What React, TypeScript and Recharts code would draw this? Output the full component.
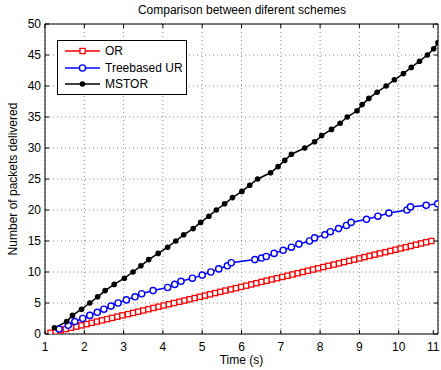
import {
  LineChart,
  Line,
  XAxis,
  YAxis,
  CartesianGrid,
  ReferenceArea,
  Legend,
  Label
} from 'recharts';

const FONT = '"Liberation Sans", Arial, Helvetica, sans-serif';
const FS = 12;

const xTicks = [1, 2, 3, 4, 5, 6, 7, 8, 9, 10, 11];
const yTicks = [0, 5, 10, 15, 20, 25, 30, 35, 40, 45, 50];

const orTime = [
  1.14, 1.27, 1.4, 1.53, 1.66, 1.8, 1.93, 2.06, 2.19, 2.32, 2.45, 2.58, 2.71, 2.84, 2.97,
  3.11, 3.24, 3.37, 3.5, 3.63, 3.76, 3.89, 4.02, 4.15, 4.28, 4.42, 4.55, 4.68, 4.81, 4.94,
  5.07, 5.2, 5.33, 5.46, 5.59, 5.73, 5.86, 5.99, 6.12, 6.25, 6.38, 6.51, 6.64, 6.77, 6.9,
  7.04, 7.17, 7.3, 7.43, 7.56, 7.69, 7.82, 7.95, 8.08, 8.21, 8.35, 8.48, 8.61, 8.74, 8.87,
  9.0, 9.13, 9.26, 9.39, 9.52, 9.66, 9.79, 9.92, 10.05, 10.18, 10.31, 10.44, 10.57, 10.7, 10.83
];
const orPackets = [
  0.2, 0.4, 0.6, 0.8, 1.0, 1.2, 1.4, 1.6, 1.8, 2.0, 2.2, 2.4, 2.6, 2.8, 3.0,
  3.2, 3.4, 3.6, 3.8, 4.0, 4.2, 4.4, 4.6, 4.8, 5.0, 5.2, 5.4, 5.6, 5.8, 6.0,
  6.2, 6.4, 6.6, 6.8, 7.0, 7.2, 7.4, 7.6, 7.8, 8.0, 8.2, 8.4, 8.6, 8.8, 9.0,
  9.2, 9.4, 9.6, 9.8, 10.0, 10.2, 10.4, 10.6, 10.8, 11.0, 11.2, 11.4, 11.6, 11.8, 12.0,
  12.2, 12.4, 12.6, 12.8, 13.0, 13.2, 13.4, 13.6, 13.8, 14.0, 14.2, 14.4, 14.6, 14.8, 15.0
];

const treeTime = [
  1.36, 1.59, 1.76, 1.96, 2.14, 2.33, 2.5, 2.68, 2.86, 3.07, 3.29, 3.46, 3.75, 4.12, 4.3,
  4.46, 4.75, 5.0, 5.22, 5.42, 5.64, 5.74, 6.34, 6.51, 6.63, 6.83, 7.06, 7.27, 7.46, 7.73,
  7.86, 8.12, 8.26, 8.47, 8.67, 8.79, 9.18, 9.47, 9.75, 10.21, 10.3, 10.7, 10.99
];
const treePackets = [
  0.8, 1.4, 2, 2.5, 3, 3.5, 4, 4.5, 5, 5.5, 6, 6.5, 7, 7.5, 8,
  8.5, 9, 9.5, 10, 10.5, 11, 11.5, 12, 12.25, 12.5, 13, 13.5, 14, 14.5, 15,
  15.5, 16, 16.5, 17, 17.5, 18, 18.5, 19, 19.5, 20, 20.5, 20.75, 21
];

const mstorTime = [
  1.24, 1.55, 1.7, 1.93, 2.14, 2.34, 2.53, 2.76, 3.02, 3.24, 3.44, 3.64, 3.88, 4.12, 4.33,
  4.53, 4.77, 4.96, 5.17, 5.36, 5.57, 5.77, 6.01, 6.21, 6.41, 6.74, 6.93, 7.1, 7.27, 7.61,
  7.86, 8.04, 8.29, 8.51, 8.69, 8.94, 9.07, 9.24, 9.45, 9.68, 9.89, 10.12, 10.32, 10.53, 10.73,
  10.89, 11.0
];
const mstorPackets = [
  1, 2, 3, 4, 5, 6, 7, 8, 9, 10, 11, 12, 13, 14, 15,
  16, 17, 18, 19, 20, 21, 22, 23, 24, 25, 26, 27, 28, 29, 30,
  31, 32, 33, 34, 35, 36, 37, 38, 39, 40, 41, 42, 43, 44, 45,
  46, 47
];

const toPoints = (xs: number[], ys: number[]) => xs.map((x, i) => ({ x, y: ys[i] }));

// plot box in page pixels
const TOP = 24;
const BOTTOM = 334;
const LEFT = 45;
const RIGHT = 438;

const RED = '#ff0000';
const BLUE = '#0000ff';

const squareDot = (p: any) => (
  <rect key={`sq-${p.index}`} x={p.cx - 2.6} y={p.cy - 2.6} width={5.2} height={5.2} fill="#fff" stroke={RED} strokeWidth={1.3} />
);
const circleDot = (p: any) => (
  <circle key={`ci-${p.index}`} cx={p.cx} cy={p.cy} r={3.1} fill="#fff" stroke={BLUE} strokeWidth={1.4} />
);
const starDot = (p: any) => (
  <circle key={`st-${p.index}`} cx={p.cx} cy={p.cy} r={2.8} fill="#000" stroke="none" />
);

const XTick = ({ x, payload }: any) => (
  <g>
    <line x1={x} x2={x} y1={BOTTOM} y2={BOTTOM - 4} stroke="#000" />
    <line x1={x} x2={x} y1={TOP} y2={TOP + 4} stroke="#000" />
    <text x={x} y={351} textAnchor="middle" fontSize={FS} fill="#000" fontFamily={FONT}>
      {payload.value}
    </text>
  </g>
);

const YTick = ({ y, payload }: any) => (
  <g>
    <line x1={LEFT} x2={LEFT + 4} y1={y} y2={y} stroke="#000" />
    <line x1={RIGHT} x2={RIGHT - 4} y1={y} y2={y} stroke="#000" />
    <text x={41} y={y + 4} textAnchor="end" fontSize={FS} fill="#000" fontFamily={FONT}>
      {payload.value}
    </text>
  </g>
);

const legendItems = [
  { name: 'OR', color: RED, shape: 'square' },
  { name: 'Treebased UR', color: BLUE, shape: 'circle' },
  { name: 'MSTOR', color: '#000', shape: 'star' }
];
const legendRows = [11, 28, 44];

const LegendBox = () => (
  <svg width={130} height={55}>
    <rect x={0.5} y={0.5} width={129} height={54} fill="#fff" stroke="#000" />
    {legendItems.map((item, i) => {
      const cy = legendRows[i];
      return (
        <g key={item.name}>
          <line x1={8} x2={43} y1={cy} y2={cy} stroke={item.color} strokeWidth={1.5} />
          {item.shape === 'square' && (
            <rect x={23} y={cy - 2.6} width={5.2} height={5.2} fill="#fff" stroke={item.color} strokeWidth={1.3} />
          )}
          {item.shape === 'circle' && (
            <circle cx={25.5} cy={cy} r={3.1} fill="#fff" stroke={item.color} strokeWidth={1.4} />
          )}
          {item.shape === 'star' && <circle cx={25.5} cy={cy} r={2.8} fill={item.color} />}
          <text x={48} y={cy + 4} fontSize={FS} fill="#000" fontFamily={FONT}>
            {item.name}
          </text>
        </g>
      );
    })}
  </svg>
);

export default function App() {
  return (
    <div style={{ position: 'absolute', left: 0, top: 0, background: '#fff' }}>
      <LineChart width={441} height={370} margin={{ top: 24, right: 3, bottom: 6, left: 10 }}>
        <CartesianGrid stroke="#888" strokeDasharray="1 3" />
        <XAxis
          dataKey="x"
          type="number"
          domain={[1, 11]}
          ticks={xTicks}
          allowDataOverflow
          height={30}
          axisLine={false}
          tickLine={false}
          tick={XTick}
        >
          <Label
            content={() => (
              <text x={241.5} y={364} textAnchor="middle" fontSize={FS} fill="#000" fontFamily={FONT}>
                Time (s)
              </text>
            )}
          />
          <Label
            content={() => (
              <text x={242} y={14} textAnchor="middle" fontSize={FS} fill="#000" fontFamily={FONT}>
                Comparison between diferent schemes
              </text>
            )}
          />
        </XAxis>
        <YAxis
          dataKey="y"
          type="number"
          domain={[0, 50]}
          ticks={yTicks}
          allowDataOverflow
          width={35}
          axisLine={false}
          tickLine={false}
          tick={YTick}
        >
          <Label
            content={() => (
              <text
                x={14}
                y={179}
                transform="rotate(-90 14 179)"
                textAnchor="middle"
                dominantBaseline="middle"
                fontSize={FS}
                fill="#000"
                fontFamily={FONT}
              >
                Number of packets delivered
              </text>
            )}
          />
        </YAxis>
        <ReferenceArea x1={1} x2={11} y1={0} y2={50} fill="none" stroke="#000" strokeWidth={1} ifOverflow="visible" />
        <Legend
          layout="horizontal"
          verticalAlign="middle"
          align="center"
          content={LegendBox}
          wrapperStyle={{ left: 57, top: 40, width: 130, height: 55 }}
        />
        <Line
          data={toPoints(orTime, orPackets)}
          dataKey="y"
          name="OR"
          stroke={RED}
          strokeWidth={1.5}
          dot={squareDot}
          activeDot={false}
          isAnimationActive={false}
        />
        <Line
          data={toPoints(treeTime, treePackets)}
          dataKey="y"
          name="Treebased UR"
          stroke={BLUE}
          strokeWidth={1.5}
          dot={circleDot}
          activeDot={false}
          isAnimationActive={false}
        />
        <Line
          data={toPoints(mstorTime, mstorPackets)}
          dataKey="y"
          name="MSTOR"
          stroke="#000"
          strokeWidth={1.5}
          dot={starDot}
          activeDot={false}
          isAnimationActive={false}
        />
      </LineChart>
    </div>
  );
}
